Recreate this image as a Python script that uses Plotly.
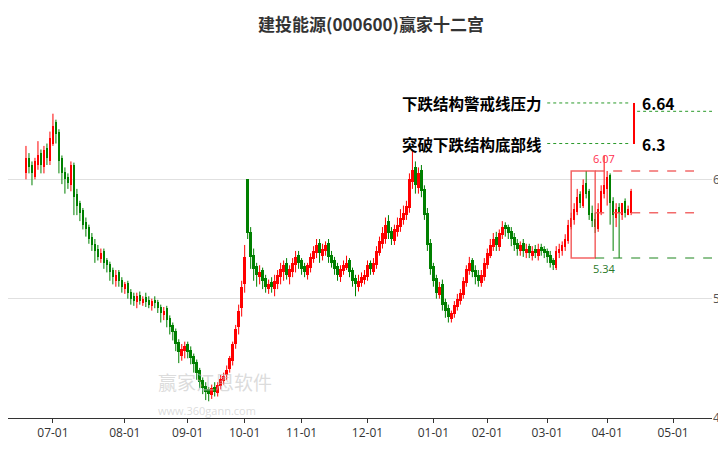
import plotly.graph_objects as go

# daily candles, index 0 = first trading day shown
opens = [6.05, 6.18, 6.12, 6.02, 6.12, 6.22, 6.10, 6.26, 6.15, 6.30,
         6.48, 6.40, 6.18, 6.06, 6.02, 5.95, 6.12, 5.88, 5.80, 5.74,
         5.64, 5.60, 5.52, 5.46, 5.42, 5.33, 5.40, 5.32, 5.29, 5.24,
         5.15, 5.22, 5.16, 5.08, 5.13, 5.06, 5.02, 4.97, 5.03, 4.96,
         5.01, 4.99, 4.94, 4.99, 4.97, 4.93, 4.86, 4.92, 4.84, 4.78,
         4.73, 4.64, 4.52, 4.56, 4.62, 4.57, 4.52, 4.47, 4.40, 4.32,
         4.27, 4.24, 4.19, 4.26, 4.21, 4.27, 4.31, 4.36, 4.41, 4.48,
         4.62, 4.76, 4.92, 5.12, 6.00, 5.56, 5.37, 5.27, 5.18, 5.24,
         5.17, 5.08, 5.14, 5.08, 5.12, 5.18, 5.22, 5.30, 5.18, 5.22,
         5.28, 5.37, 5.32, 5.27, 5.20, 5.26, 5.33, 5.38, 5.47, 5.36,
         5.40, 5.47, 5.37, 5.32, 5.27, 5.18, 5.23, 5.26, 5.32, 5.24,
         5.17, 5.10, 5.13, 5.16, 5.18, 5.30, 5.22, 5.28, 5.38, 5.46,
         5.50, 5.65, 5.57, 5.48, 5.56, 5.60, 5.66, 5.70, 5.76, 5.98,
         6.10, 5.93, 6.08, 5.92, 5.72, 5.47, 5.27, 5.17, 5.03, 5.12,
         4.97, 4.92, 4.83, 4.87, 4.93, 4.98, 5.03, 5.13, 5.23, 5.32,
         5.24, 5.20, 5.13, 5.18, 5.28, 5.36, 5.43, 5.52, 5.43, 5.53,
         5.62, 5.60, 5.57, 5.52, 5.47, 5.40, 5.47, 5.38, 5.44, 5.36,
         5.42, 5.36, 5.43, 5.42, 5.40, 5.37, 5.32, 5.26, 5.38, 5.40,
         5.43, 5.48, 5.60, 5.66, 5.73, 5.88, 5.78, 5.97, 5.90, 5.72,
         5.67, 5.58, 5.73, 5.88, 5.92, 6.04, 5.82, 5.68, 5.77, 5.70,
         5.82, 5.70, 5.72, 6.30]
highs = [6.28, 6.22, 6.15, 6.18, 6.32, 6.25, 6.28, 6.30, 6.40, 6.55,
         6.50, 6.42, 6.20, 6.10, 6.05, 6.15, 6.14, 5.92, 5.82, 5.76,
         5.68, 5.62, 5.55, 5.50, 5.45, 5.42, 5.42, 5.34, 5.31, 5.26,
         5.24, 5.24, 5.18, 5.14, 5.15, 5.08, 5.05, 5.05, 5.06, 5.02,
         5.05, 5.02, 5.00, 5.02, 4.99, 4.95, 4.93, 4.94, 4.86, 4.80,
         4.75, 4.66, 4.62, 4.64, 4.64, 4.60, 4.54, 4.49, 4.42, 4.34,
         4.30, 4.26, 4.28, 4.30, 4.30, 4.36, 4.38, 4.44, 4.52, 4.64,
         4.78, 4.95, 5.15, 5.45, 6.00, 5.60, 5.42, 5.30, 5.28, 5.26,
         5.20, 5.16, 5.18, 5.20, 5.24, 5.30, 5.32, 5.34, 5.28, 5.34,
         5.40, 5.40, 5.34, 5.30, 5.30, 5.38, 5.44, 5.50, 5.50, 5.46,
         5.48, 5.50, 5.40, 5.35, 5.30, 5.28, 5.32, 5.36, 5.34, 5.26,
         5.20, 5.20, 5.22, 5.24, 5.32, 5.32, 5.34, 5.44, 5.52, 5.60,
         5.68, 5.70, 5.60, 5.62, 5.68, 5.75, 5.78, 5.82, 6.05, 6.25,
         6.15, 6.10, 6.12, 5.95, 5.76, 5.50, 5.30, 5.20, 5.14, 5.16,
         5.00, 4.95, 4.90, 4.98, 5.04, 5.08, 5.18, 5.28, 5.35, 5.34,
         5.28, 5.24, 5.24, 5.34, 5.42, 5.50, 5.55, 5.56, 5.58, 5.65,
         5.64, 5.62, 5.60, 5.55, 5.50, 5.48, 5.50, 5.46, 5.46, 5.44,
         5.45, 5.46, 5.46, 5.44, 5.42, 5.40, 5.34, 5.44, 5.46, 5.48,
         5.54, 5.66, 5.72, 5.80, 5.92, 5.90, 6.00, 6.07, 5.92, 5.78,
         5.72, 5.80, 5.95, 6.20, 6.07, 6.05, 5.85, 5.80, 5.80, 5.76,
         5.84, 5.78, 5.92, 6.64]
lows = [6.00, 6.05, 5.95, 6.00, 6.08, 6.05, 6.05, 6.12, 6.12, 6.28,
        6.30, 6.05, 5.96, 5.88, 5.92, 5.90, 5.70, 5.70, 5.65, 5.58,
        5.52, 5.46, 5.40, 5.30, 5.32, 5.30, 5.25, 5.22, 5.15, 5.12,
        5.10, 5.10, 5.05, 5.04, 5.00, 4.95, 4.94, 4.92, 4.95, 4.94,
        4.93, 4.92, 4.90, 4.92, 4.88, 4.80, 4.82, 4.76, 4.70, 4.65,
        4.56, 4.46, 4.48, 4.50, 4.50, 4.45, 4.38, 4.32, 4.25, 4.20,
        4.15, 4.14, 4.16, 4.18, 4.18, 4.24, 4.28, 4.32, 4.38, 4.44,
        4.58, 4.70, 4.85, 5.05, 5.50, 5.25, 5.15, 5.10, 5.12, 5.08,
        5.05, 5.04, 5.05, 5.02, 5.08, 5.12, 5.15, 5.16, 5.12, 5.18,
        5.22, 5.25, 5.20, 5.18, 5.16, 5.22, 5.30, 5.34, 5.30, 5.32,
        5.36, 5.30, 5.26, 5.20, 5.15, 5.14, 5.20, 5.24, 5.18, 5.10,
        5.02, 5.06, 5.10, 5.12, 5.15, 5.20, 5.20, 5.25, 5.36, 5.42,
        5.46, 5.50, 5.45, 5.45, 5.52, 5.56, 5.62, 5.66, 5.72, 5.92,
        5.88, 5.88, 5.85, 5.66, 5.40, 5.20, 5.10, 5.00, 5.00, 4.90,
        4.84, 4.80, 4.80, 4.84, 4.90, 4.95, 5.00, 5.10, 5.20, 5.18,
        5.12, 5.10, 5.10, 5.15, 5.25, 5.34, 5.40, 5.40, 5.40, 5.50,
        5.52, 5.50, 5.44, 5.40, 5.36, 5.36, 5.35, 5.34, 5.34, 5.32,
        5.34, 5.32, 5.36, 5.34, 5.30, 5.26, 5.24, 5.24, 5.34, 5.36,
        5.40, 5.46, 5.58, 5.62, 5.70, 5.76, 5.76, 5.84, 5.66, 5.60,
        5.55, 5.56, 5.70, 5.84, 5.78, 5.62, 5.40, 5.60, 5.34, 5.66,
        5.68, 5.70, 5.70, 6.30]
closes = [6.18, 6.10, 6.05, 6.15, 6.20, 6.12, 6.25, 6.18, 6.35, 6.45,
          6.38, 6.15, 6.05, 6.00, 5.97, 6.12, 5.85, 5.78, 5.72, 5.62,
          5.58, 5.50, 5.45, 5.40, 5.35, 5.38, 5.30, 5.28, 5.22, 5.18,
          5.20, 5.15, 5.10, 5.12, 5.05, 5.00, 4.98, 5.02, 4.98, 5.00,
          4.97, 4.95, 4.98, 4.96, 4.92, 4.88, 4.90, 4.82, 4.76, 4.72,
          4.62, 4.55, 4.58, 4.60, 4.55, 4.50, 4.45, 4.38, 4.30, 4.25,
          4.22, 4.20, 4.25, 4.22, 4.28, 4.33, 4.35, 4.40, 4.50, 4.62,
          4.75, 4.90, 5.10, 5.35, 5.55, 5.35, 5.25, 5.20, 5.22, 5.15,
          5.10, 5.12, 5.10, 5.15, 5.20, 5.25, 5.28, 5.20, 5.25, 5.30,
          5.35, 5.30, 5.25, 5.22, 5.28, 5.35, 5.40, 5.45, 5.38, 5.42,
          5.45, 5.35, 5.30, 5.25, 5.20, 5.25, 5.28, 5.30, 5.22, 5.15,
          5.12, 5.15, 5.18, 5.20, 5.28, 5.25, 5.30, 5.40, 5.48, 5.55,
          5.62, 5.55, 5.50, 5.58, 5.62, 5.68, 5.72, 5.78, 6.00, 6.08,
          5.95, 6.05, 5.90, 5.70, 5.45, 5.25, 5.15, 5.05, 5.10, 4.95,
          4.90, 4.85, 4.88, 4.95, 5.00, 5.05, 5.15, 5.25, 5.30, 5.22,
          5.18, 5.15, 5.20, 5.30, 5.38, 5.45, 5.50, 5.45, 5.55, 5.60,
          5.58, 5.55, 5.50, 5.45, 5.42, 5.45, 5.40, 5.42, 5.38, 5.40,
          5.38, 5.42, 5.40, 5.38, 5.35, 5.30, 5.28, 5.40, 5.42, 5.45,
          5.50, 5.62, 5.68, 5.75, 5.85, 5.80, 5.95, 5.88, 5.70, 5.65,
          5.60, 5.75, 5.90, 5.95, 6.02, 5.80, 5.70, 5.75, 5.72, 5.80,
          5.72, 5.75, 5.90, 6.64]

tick_pos = [9, 33, 54, 73, 92, 114, 136, 154, 174, 194, 216]
tick_text = ['07-01', '08-01', '09-01', '10-01', '11-01', '12-01',
             '01-01', '02-01', '03-01', '04-01', '05-01']

pressure = 6.64
bottom_line = 6.3
box_high, box_low, box_mid = 6.07, 5.34, 5.72
box_start, box_end = 182, 190

RED = '#ff0000'
GREEN = '#008000'

x = list(range(len(closes)))
colors = [RED if c >= o else GREEN for o, c in zip(opens, closes)]

fig = go.Figure()

# wicks, one trace per colour
for col in (RED, GREEN):
    wx, wy = [], []
    for i in x:
        if colors[i] == col:
            wx += [i, i, None]
            wy += [lows[i], highs[i], None]
    fig.add_trace(go.Scatter(x=wx, y=wy, mode='lines', line=dict(color=col, width=1),
                             showlegend=False, hoverinfo='skip'))

# bodies
fig.add_trace(go.Bar(
    x=x,
    y=[max(abs(c - o), 0.012) for o, c in zip(opens, closes)],
    base=[min(o, c) for o, c in zip(opens, closes)],
    marker=dict(color=colors, line=dict(width=0)),
    width=0.85, showlegend=False, hoverinfo='skip'))

dash_red = dict(color='rgba(240,80,80,0.85)', width=1.5, dash='dash')
shapes = [
    dict(type='rect', x0=box_start, x1=box_end, y0=box_low, y1=box_high,
         line=dict(color='rgba(240,60,60,0.8)', width=1.5)),
    dict(type='line', x0=box_end, x1=223, y0=box_high, y1=box_high, line=dash_red),
    dict(type='line', x0=box_end, x1=223, y0=box_mid, y1=box_mid, line=dash_red),
    dict(type='line', x0=box_end, x1=236, y0=box_low, y1=box_low,
         line=dict(color='rgba(40,140,40,0.7)', width=1.5, dash='dash')),
    dict(type='line', x0=174, x1=202, y0=pressure, y1=pressure,
         line=dict(color='#2a9a2a', width=1, dash='dot')),
    dict(type='line', x0=204, x1=236, y0=6.57, y1=6.57,
         line=dict(color='#2a9a2a', width=1, dash='dot')),
    dict(type='line', x0=174, x1=202, y0=bottom_line, y1=bottom_line,
         line=dict(color='#2a9a2a', width=1, dash='dot')),
]

cjk = 'Noto Sans CJK SC'
ann = [
    dict(x=173, y=pressure, text='<b>下跌结构警戒线压力</b>', xanchor='right', showarrow=False,
         font=dict(size=15.5, color='black', family=cjk)),
    dict(x=173, y=bottom_line, text='<b>突破下跌结构底部线</b>', xanchor='right', showarrow=False,
         font=dict(size=15.5, color='black', family=cjk)),
    dict(x=205, y=pressure, text='<b>6.64</b>', xanchor='left', showarrow=False,
         font=dict(size=15.5, color='black', family=cjk)),
    dict(x=205, y=bottom_line, text='<b>6.3</b>', xanchor='left', showarrow=False,
         font=dict(size=15.5, color='black', family=cjk)),
    dict(x=193, y=box_high, text='6.07', showarrow=False, yshift=12,
         font=dict(size=11, color='#ff3050')),
    dict(x=193, y=box_low, text='5.34', showarrow=False, yshift=-10,
         font=dict(size=11, color='#2a7a2a')),
    dict(x=0.21, y=0.06, xref='paper', yref='paper', text='赢家江恩软件', showarrow=False,
         font=dict(size=19, color='rgba(190,190,190,0.55)', family=cjk)),
    dict(x=0.21, y=-0.005, xref='paper', yref='paper', text='www.360gann.com', showarrow=False,
         font=dict(size=11, color='rgba(190,190,190,0.55)')),
]

fig.update_layout(
    width=726, height=450,
    margin=dict(l=0, r=22, t=52, b=40, autoexpand=False),
    paper_bgcolor='white', plot_bgcolor='white',
    bargap=0,
    title=dict(text='<b>建投能源(000600)赢家十二宫</b>', x=0.5, y=0.975, yanchor='top',
               xanchor='center',
               font=dict(size=17, color='#333', family=cjk)),
    shapes=shapes, annotations=ann,
    xaxis=dict(range=[-6, 229], tickvals=tick_pos, ticktext=tick_text,
               showgrid=False, zeroline=False,
               showline=True, linecolor='#333', ticks='outside', ticklen=4,
               tickcolor='#333', tickfont=dict(size=12, color='#333')),
    yaxis=dict(range=[4, 7.0], side='right', tickvals=[4, 5, 6], ticktext=['4', '5', '6'],
               showgrid=True, gridcolor='#e0e0e0', zeroline=False,
               tickfont=dict(size=12, color='#555'), ticklabelposition='outside'),
)

fig.write_html("out.html")
